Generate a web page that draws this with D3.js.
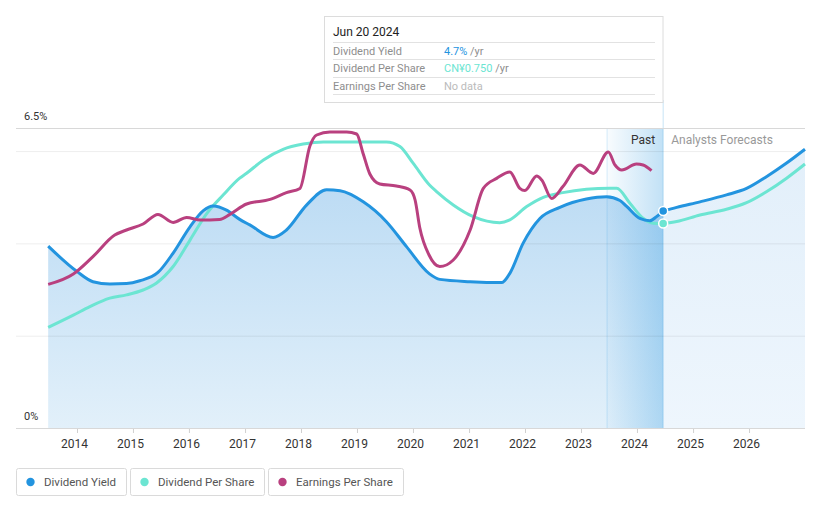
<!DOCTYPE html>
<html><head><meta charset="utf-8">
<script src="https://cdn.jsdelivr.net/npm/d3@7"></script>
<style>
body{margin:0;background:#fff;font-family:Roboto,"Noto Sans",sans-serif;}
svg{display:block;}
</style></head><body>
<svg id="c" width="821" height="508"></svg>
<script>
// ---------- DATA ----------
const yearTicks = [2014,2015,2016,2017,2018,2019,2020,2021,2022,2023,2024,2025,2026];
const yTickLabels = ["0%","6.5%"];
const yTickValues = [0,6.5];
const gridValues = [2,4,6];

const yieldPastDates = ["2013-06-27","2014-01-01","2014-04-15","2014-08-03","2014-11-20","2015-02-15","2015-06-13","2015-09-20","2016-01-08","2016-04-04","2016-06-08","2016-09-02","2016-11-27","2017-02-01","2017-07-03","2017-09-28","2018-02-06","2018-06-17","2018-09-13","2019-02-11","2019-07-12","2019-11-20","2020-04-18","2020-06-24","2021-01-08","2021-08-01","2021-09-24","2021-12-19","2022-04-08","2022-08-16","2023-02-05","2023-06-17","2023-09-12","2023-10-26","2024-01-20","2024-03-25","2024-05-08","2024-06-20"];
const yieldPastValues = [3.94,3.39,3.17,3.12,3.13,3.19,3.37,3.79,4.36,4.71,4.81,4.72,4.52,4.40,4.13,4.29,4.83,5.16,5.14,4.90,4.47,3.93,3.34,3.22,3.17,3.15,3.35,4.00,4.54,4.78,4.96,5.01,4.93,4.80,4.54,4.49,4.58,4.70];
const yieldFcDates = ["2024-06-20","2024-09-16","2025-02-15","2025-08-07","2025-12-16","2026-04-27","2026-09-03","2027-01-01"];
const yieldFcValues = [4.70,4.78,4.90,5.05,5.19,5.45,5.74,6.04];

const dpsPastDates = ["2013-06-27","2013-12-08","2014-03-26","2014-08-03","2014-11-20","2015-03-08","2015-06-02","2015-09-20","2016-01-08","2016-04-27","2016-08-11","2016-11-27","2017-01-11","2017-05-01","2017-09-06","2018-01-15","2018-05-26","2019-07-12","2019-10-08","2020-01-02","2020-04-18","2020-06-03","2020-09-20","2021-01-29","2021-07-20","2021-09-24","2022-01-12","2022-04-30","2022-09-05","2023-02-05","2023-07-09","2023-08-22","2023-11-16","2024-02-10","2024-04-16","2024-06-20"];
const dpsPastValues = [0.369,0.414,0.445,0.476,0.488,0.506,0.531,0.592,0.689,0.787,0.854,0.916,0.934,0.983,1.022,1.041,1.049,1.049,1.032,0.971,0.891,0.867,0.818,0.775,0.753,0.763,0.812,0.846,0.863,0.875,0.879,0.879,0.824,0.769,0.751,0.750];
const dpsFcDates = ["2024-06-20","2024-09-16","2025-02-15","2025-08-07","2025-12-16","2026-04-27","2026-09-03","2027-01-01"];
const dpsFcValues = [0.750,0.757,0.781,0.802,0.826,0.867,0.916,0.968];

const epsDates = ["2013-06-27","2013-12-08","2014-04-15","2014-09-04","2014-11-20","2015-03-08","2015-06-13","2015-09-20","2015-12-17","2016-03-14","2016-07-19","2016-09-24","2017-01-11","2017-06-13","2017-09-28","2017-12-25","2018-02-28","2018-04-13","2018-07-09","2018-10-26","2018-12-30","2019-02-11","2019-03-26","2019-05-30","2019-09-15","2019-12-13","2020-01-15","2020-02-15","2020-04-15","2020-06-24","2020-09-20","2021-01-08","2021-04-04","2021-06-30","2021-09-24","2021-11-28","2021-12-31","2022-03-18","2022-04-20","2022-06-24","2022-09-05","2022-12-25","2023-03-22","2023-06-28","2023-08-11","2023-09-24","2023-12-29","2024-02-10","2024-04-05"];
const epsValues = [0.718,0.770,0.857,0.965,0.990,1.020,1.068,1.028,1.053,1.040,1.043,1.068,1.120,1.143,1.177,1.198,1.410,1.465,1.480,1.480,1.470,1.370,1.270,1.220,1.210,1.190,1.140,1.000,0.865,0.807,0.840,0.990,1.198,1.248,1.280,1.198,1.187,1.260,1.240,1.148,1.207,1.315,1.273,1.380,1.315,1.290,1.320,1.315,1.287];

const seriesNames = ["Dividend Yield","Dividend Per Share","Earnings Per Share"];
const seriesColors = ["#2394df","#6ce5d2","#b9407f"];
const tooltipDate = "Jun 20 2024";
const tooltipValues = ["4.7%","CN¥0.750","No data"];
const tooltipUnits = [" /yr"," /yr",""];
const pastStart = "2023-06-20";
const nowDate = "2024-06-20";

// ---------- SCALES ----------
const P = d3.timeParse("%Y-%m-%d");
const svg = d3.select("#c");
const L = 16, R = 805, T = 128, B = 428;
const x = d3.scaleTime().domain([P("2014-01-01"), P("2027-01-01")]).range([77, 805]);
const y = d3.scaleLinear().domain([0, 6.5]).range([B, T]);
const yDps = d3.scaleLinear().domain([0, 1.1]).range([B, T]);
const yEps = d3.scaleLinear().domain([0, 1.5]).range([B, T]);
const zip = (ds, vs) => ds.map((d,i)=>({d:P(d), v:vs[i]}));

const defs = svg.append("defs");
const g1 = defs.append("linearGradient").attr("id","pastArea").attr("gradientUnits","userSpaceOnUse").attr("x1",0).attr("y1",190).attr("x2",0).attr("y2",B);
g1.append("stop").attr("offset",0).attr("stop-color","#bddcf4");
g1.append("stop").attr("offset",1).attr("stop-color","#e2f0fa");
const g2 = defs.append("linearGradient").attr("id","fcArea").attr("gradientUnits","userSpaceOnUse").attr("x1",0).attr("y1",150).attr("x2",0).attr("y2",B);
g2.append("stop").attr("offset",0).attr("stop-color","#e2effa");
g2.append("stop").attr("offset",1).attr("stop-color","#eef6fd");
const g3 = defs.append("linearGradient").attr("id","band").attr("x1",0).attr("y1",0).attr("x2",1).attr("y2",0);
g3.append("stop").attr("offset",0).attr("stop-color","#2394df").attr("stop-opacity",0.03);
g3.append("stop").attr("offset",1).attr("stop-color","#2394df").attr("stop-opacity",0.28);

const curve = d3.curveMonotoneX;
const yp = zip(yieldPastDates, yieldPastValues), yf = zip(yieldFcDates, yieldFcValues);
const dp = zip(dpsPastDates, dpsPastValues), df = zip(dpsFcDates, dpsFcValues);
const ep = zip(epsDates, epsValues);

// areas
const area = d3.area().x(p=>x(p.d)).y0(B).y1(p=>y(p.v)).curve(curve);
svg.append("path").datum(yp).attr("d",area).attr("fill","url(#pastArea)");
svg.append("path").datum(yf).attr("d",area).attr("fill","url(#fcArea)");

// past band
const bx0 = x(P(pastStart)), bx1 = x(P(nowDate));
svg.append("rect").attr("x",bx0).attr("y",T).attr("width",bx1-bx0).attr("height",B-T).attr("fill","url(#band)");
svg.append("line").attr("x1",bx0).attr("x2",bx0).attr("y1",T).attr("y2",B).attr("stroke","#2394df").attr("stroke-opacity",0.18);
svg.append("line").attr("x1",bx1).attr("x2",bx1).attr("y1",100).attr("y2",B).attr("stroke","#2394df").attr("stroke-opacity",0.25);

// gridlines
svg.selectAll(".grid").data(gridValues).join("line")
  .attr("x1",L).attr("x2",R).attr("y1",d=>y(d)+0.5).attr("y2",d=>y(d)+0.5)
  .attr("stroke","#000").attr("stroke-opacity",0.07);
svg.append("line").attr("x1",L).attr("x2",R).attr("y1",y(6.5)+0.5).attr("y2",y(6.5)+0.5).attr("stroke","#d8d8d8");

// y labels
svg.selectAll(".yl").data(yTickValues).join("text")
  .attr("x",24).attr("y",d=>y(d)-12).attr("dy","0.35em")
  .attr("font-size",11).attr("fill","#333").text((d,i)=>yTickLabels[i]);

// x axis
const xa = svg.append("g").attr("transform",`translate(0,${B})`)
  .call(d3.axisBottom(x).tickValues(yearTicks.map(yy=>new Date(yy,0,1))).tickSize(5).tickPadding(6).tickFormat(d3.timeFormat("%Y")));
xa.select(".domain").remove();
xa.selectAll(".tick line").attr("stroke","#d0d0d0");
xa.selectAll(".tick text").attr("font-size",12).attr("fill","#333").attr("font-family","Roboto,sans-serif").attr("dx",-3);
svg.append("line").attr("x1",L).attr("x2",R).attr("y1",B+0.5).attr("y2",B+0.5).attr("stroke","#d8d8d8");

// lines
const lineY = d3.line().x(p=>x(p.d)).y(p=>y(p.v)).curve(curve);
const lineD = d3.line().x(p=>x(p.d)).y(p=>yDps(p.v)).curve(curve);
const lineE = d3.line().x(p=>x(p.d)).y(p=>yEps(p.v)).curve(curve);
svg.append("path").datum(dp).attr("d",lineD).attr("fill","none").attr("stroke",seriesColors[1]).attr("stroke-width",3);
svg.append("path").datum(df).attr("d",lineD).attr("fill","none").attr("stroke",seriesColors[1]).attr("stroke-width",3);
svg.append("path").datum(yp).attr("d",lineY).attr("fill","none").attr("stroke",seriesColors[0]).attr("stroke-width",3);
svg.append("path").datum(yf).attr("d",lineY).attr("fill","none").attr("stroke",seriesColors[0]).attr("stroke-width",3);
svg.append("path").datum(ep).attr("d",lineE).attr("fill","none").attr("stroke",seriesColors[2]).attr("stroke-width",3);

// dots
const last = a => a[a.length-1];
svg.append("circle").attr("cx",x(last(yp).d)).attr("cy",y(last(yp).v)).attr("r",4.5).attr("fill",seriesColors[0]).attr("stroke","#fff").attr("stroke-width",1.5);
svg.append("circle").attr("cx",x(last(dp).d)).attr("cy",yDps(last(dp).v)).attr("r",4.5).attr("fill",seriesColors[1]).attr("stroke","#fff").attr("stroke-width",1.5);

// past / forecast labels
svg.append("text").attr("x",bx1-8).attr("y",140).attr("dy","0.35em").attr("text-anchor","end").attr("font-size",12).attr("fill","#333").text("Past");
svg.append("text").attr("x",bx1+8).attr("y",140).attr("dy","0.35em").attr("font-size",12).attr("fill","#999").text("Analysts Forecasts");

// tooltip
const tt = svg.append("g");
tt.append("rect").attr("x",324.5).attr("y",16.5).attr("width",338.5).attr("height",86).attr("fill","#fff").attr("stroke","#dcdcdc");
tt.append("text").attr("x",333).attr("y",32).attr("dy","0.35em").attr("font-size",12).attr("fill","#222").text(tooltipDate);
const rowY = [42,59,77,94];
rowY.forEach(yy=>tt.append("line").attr("x1",333).attr("x2",655).attr("y1",yy+0.5).attr("y2",yy+0.5).attr("stroke","#e2e2e2"));
const valColors = [seriesColors[0], seriesColors[1], "#bbb"];
seriesNames.forEach((n,i)=>{
  const cy = (rowY[i]+rowY[i+1])/2+0.5;
  tt.append("text").attr("x",333).attr("y",cy).attr("dy","0.35em").attr("font-size",11).attr("fill","#8e8e8e").text(n);
  const t = tt.append("text").attr("x",444).attr("y",cy).attr("dy","0.35em").attr("font-size",11);
  t.append("tspan").attr("fill",valColors[i]).text(tooltipValues[i]);
  t.append("tspan").attr("fill","#8e8e8e").text(tooltipUnits[i]);
});

// legend
const legX = [16,130,268], legW = [110,134,135];
seriesNames.forEach((n,i)=>{
  const g = svg.append("g").attr("transform",`translate(${legX[i]},468)`);
  g.append("rect").attr("x",0.5).attr("y",0.5).attr("width",legW[i]).attr("height",27).attr("rx",2).attr("fill","#fff").attr("stroke","#dadada");
  g.append("circle").attr("cx",14.5).attr("cy",14).attr("r",4.2).attr("fill",seriesColors[i]);
  g.append("text").attr("x",28).attr("y",14).attr("dy","0.35em").attr("font-size",11.5).attr("fill","#555").text(n);
});
</script>
</body></html>
